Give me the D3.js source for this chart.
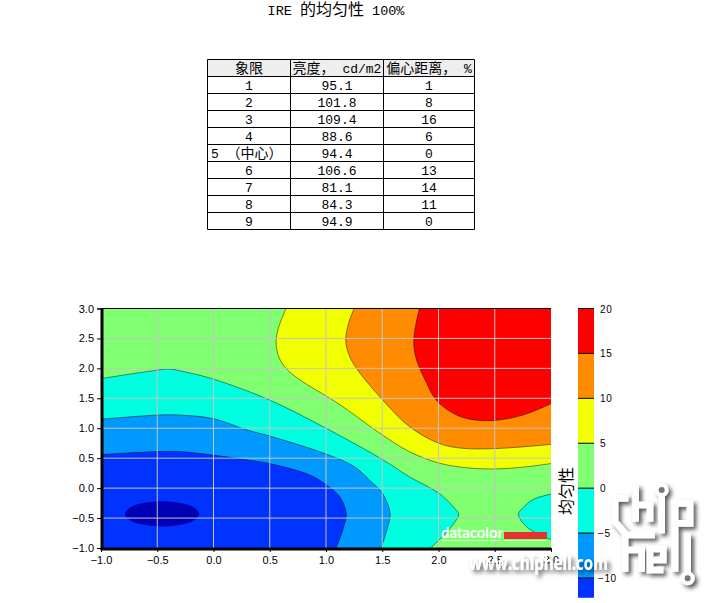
<!DOCTYPE html>
<html>
<head>
<meta charset="utf-8">
<script src="https://cdn.jsdelivr.net/npm/d3@7"></script>
<style>
  body { margin: 0; background: #fff; }
  text { font-family: "Liberation Sans", sans-serif; fill: #000; }
  .cell { font-family: "Liberation Mono", "Noto Sans CJK SC", monospace; }
  .cjk { font-family: "Noto Sans CJK SC", sans-serif; }
</style>
</head>
<body>
<div id="chart"></div>
<script>
// table values
var headers = ["象限", "亮度， cd/m2", "偏心距离， %"];
var quadrants = ["1", "2", "3", "4", "5 （中心）", "6", "7", "8", "9"];
var luminance = ["95.1", "101.8", "109.4", "88.6", "94.4", "106.6", "81.1", "84.3", "94.9"];
var deviation = ["1", "8", "16", "6", "0", "13", "14", "11", "0"];

// contour lines as [x, y]
var level15 = [[1.83,3],[1.8,2.75],[1.78,2.44],[1.8,2.17],[1.88,1.81],[1.98,1.47],[2.13,1.25],[2.28,1.15],[2.5,1.13],[2.75,1.22],[3,1.41]];
var level10 = [[1.25,3],[1.2,2.75],[1.175,2.47],[1.2,2.25],[1.26,2.03],[1.5,1.48],[1.74,1.03],[2,0.75],[2.19,0.67],[2.5,0.66],[3,0.73]];
var level5 = [[0.645,3],[0.58,2.69],[0.556,2.44],[0.585,2.17],[0.66,1.97],[0.79,1.78],[1,1.54],[1.15,1.36],[1.5,0.89],[1.74,0.61],[2,0.42],[2.25,0.34],[2.5,0.32],[2.75,0.35],[3,0.41]];
var level0 = [[-1,1.83],[-0.5,1.97],[-0.4,1.99],[-0.25,1.94],[0,1.82],[0.5,1.47],[1,1.0],[1.5,0.48],[1.74,0.19],[2,-0.08],[2.13,-0.31],[2.18,-0.44],[2.14,-0.58],[2.04,-0.8],[1.93,-1]];
var level0b = [[3,-0.1],[2.84,-0.19],[2.75,-0.33],[2.71,-0.44],[2.78,-0.64],[2.9,-0.78],[3,-0.86]];
var levelM5 = [[-1,1.15],[-0.5,1.22],[-0.3,1.22],[0,1.16],[0.3,0.97],[0.5,0.87],[1,0.57],[1.25,0.36],[1.4,0.11],[1.5,-0.08],[1.57,-0.42],[1.55,-0.64],[1.49,-1]];
var levelM10 = [[-1,0.56],[-0.5,0.61],[-0.3,0.61],[0,0.55],[0.3,0.47],[0.5,0.41],[0.855,0.22],[1,0.06],[1.12,-0.14],[1.18,-0.42],[1.15,-0.69],[1.09,-1]];
var levelM15 = [[-0.127,-0.43],[-0.171,-0.325],[-0.292,-0.248],[-0.457,-0.22],[-0.622,-0.248],[-0.743,-0.325],[-0.787,-0.43],[-0.743,-0.535],[-0.622,-0.612],[-0.457,-0.64],[-0.292,-0.612],[-0.171,-0.535]];

// colour bands
var barLevels = [20, 15, 10, 5, 0, -5, -10, -12.2];
var barColors = ["#ff0000", "#ff8c00", "#f2ff00", "#80ff70", "#00ffe0", "#0099ff", "#0033ff"];
var darkBlue = "#0000b4";
var barTicks = [20, 15, 10, 5, 0, -5, -10];
var axisTicks = [-1, -0.5, 0, 0.5, 1, 1.5, 2, 2.5, 3];

var svg = d3.select("#chart").append("svg")
  .attr("width", 711)
  .attr("height", 603)
  .style("display", "block");

// mixes half width latin and full width chinese sizes, like the original font
function mixedText(sel, str, latinSize, cjkSize) {
  var runs = str.match(/[\u3000-\u9fff\uff00-\uffef]+|[^\u3000-\u9fff\uff00-\uffef]+/g);
  runs.forEach(function(r) {
    var isCjk = /[\u3000-\u9fff\uff00-\uffef]/.test(r);
    sel.append("tspan")
      .attr("font-size", isCjk ? cjkSize : latinSize)
      .style("white-space", "pre")
      .text(r);
  });
}

// title
var title = svg.append("text").attr("class", "cell")
  .attr("x", 336).attr("y", 15)
  .attr("text-anchor", "middle");
mixedText(title, "IRE 的均匀性 100%", 13.5, 16);

// table
var colX = [207.5, 290.5, 383.5, 474.5];
var rowH = 17;
var tableTop = 59.5;

var rows = [headers].concat(quadrants.map(function(q, i) {
  return [q, luminance[i], deviation[i]];
}));

var table = svg.append("g");
table.append("rect")
  .attr("x", colX[0]).attr("y", tableTop)
  .attr("width", colX[3] - colX[0]).attr("height", rowH)
  .attr("fill", "#eeeeee");

rows.forEach(function(row, r) {
  row.forEach(function(v, c) {
    var isFive = r === 5 && c === 0;
    var t = table.append("text").attr("class", "cell")
      .attr("x", isFive ? colX[0] + 3.5 : (colX[c] + colX[c + 1]) / 2)
      .attr("y", tableTop + rowH * r + 13.5)
      .attr("text-anchor", isFive ? "start" : "middle");
    mixedText(t, v, 13, 14);
  });
});

d3.range(rows.length + 1).forEach(function(r) {
  table.append("line")
    .attr("x1", colX[0]).attr("x2", colX[3])
    .attr("y1", tableTop + rowH * r).attr("y2", tableTop + rowH * r)
    .attr("stroke", "#000");
});
colX.forEach(function(x) {
  table.append("line")
    .attr("x1", x).attr("x2", x)
    .attr("y1", tableTop).attr("y2", tableTop + rowH * rows.length)
    .attr("stroke", "#000");
});

// contour plot
var x = d3.scaleLinear().domain([-1, 3]).range([101, 551]);
var y = d3.scaleLinear().domain([-1, 3]).range([548, 308.5]);

svg.append("clipPath").attr("id", "plotClip").append("rect")
  .attr("x", x(-1)).attr("y", y(3))
  .attr("width", x(3) - x(-1)).attr("height", y(-1) - y(3));

var plot = svg.append("g").attr("clip-path", "url(#plotClip)");

var line = d3.line()
  .x(function(d) { return x(d[0]); })
  .y(function(d) { return y(d[1]); })
  .curve(d3.curveCatmullRom.alpha(0.5));

var closedLine = d3.line()
  .x(function(d) { return x(d[0]); })
  .y(function(d) { return y(d[1]); })
  .curve(d3.curveCatmullRomClosed.alpha(0.5));

// open contour plus the corners that close the region
function region(points, corners) {
  var p = line(points);
  corners.forEach(function(c) {
    p += "L" + x(c[0]) + "," + y(c[1]);
  });
  return p + "Z";
}

plot.append("rect")
  .attr("x", x(-1)).attr("y", y(3))
  .attr("width", x(3) - x(-1)).attr("height", y(-1) - y(3))
  .attr("fill", barColors[3]);

var regions = [
  { d: region(level5, [[3, 3]]), fill: barColors[2] },
  { d: region(level10, [[3, 3]]), fill: barColors[1] },
  { d: region(level15, [[3, 3]]), fill: barColors[0] },
  { d: region(level0, [[-1, -1]]), fill: barColors[4] },
  { d: region(level0b, [[3, -0.1]]), fill: barColors[4] },
  { d: region(levelM5, [[-1, -1]]), fill: barColors[5] },
  { d: region(levelM10, [[-1, -1]]), fill: barColors[6] },
  { d: closedLine(levelM15), fill: darkBlue }
];

plot.selectAll("path.band")
  .data(regions)
  .enter()
  .append("path")
  .attr("class", "band")
  .attr("d", function(d) { return d.d; })
  .attr("fill", function(d) { return d.fill; });

plot.selectAll("path.contour")
  .data([level15, level10, level5, level0, level0b, levelM5, levelM10])
  .enter()
  .append("path")
  .attr("class", "contour")
  .attr("d", line)
  .attr("fill", "none")
  .attr("stroke", "#000")
  .attr("stroke-opacity", 0.45);

// grid
axisTicks.slice(1, -1).forEach(function(t) {
  plot.append("line")
    .attr("x1", x(t)).attr("x2", x(t))
    .attr("y1", y(3)).attr("y2", y(-1))
    .attr("stroke", "#c4c4c4");
  plot.append("line")
    .attr("x1", x(-1)).attr("x2", x(3))
    .attr("y1", y(t)).attr("y2", y(t))
    .attr("stroke", "#c4c4c4");
});

// axes
var xAxis = d3.axisBottom(x).tickValues(axisTicks).tickFormat(d3.format(".1f")).tickSizeOuter(0).tickSize(4);
var yAxis = d3.axisLeft(y).tickValues(axisTicks).tickFormat(d3.format(".1f")).tickSizeOuter(0).tickSize(4);

var xG = svg.append("g").attr("transform", "translate(0," + y(-1) + ")").call(xAxis);
var yG = svg.append("g").attr("transform", "translate(" + x(-1) + ",0)").call(yAxis);
[xG, yG].forEach(function(g) {
  g.selectAll("text").attr("font-size", 11)
    .style("font-family", '"Liberation Sans", sans-serif')
    .text(function(d) { return d3.format(".1f")(d); });
  g.selectAll(".tick text").attr("fill", "#000");
});
xG.selectAll("text").attr("dy", "0.85em");

// thick left and bottom edges, thin top edge
svg.append("rect").attr("x", x(-1) - 0.5).attr("y", y(3)).attr("width", 3).attr("height", y(-1) - y(3) + 2);
svg.append("rect").attr("x", x(-1) - 0.5).attr("y", y(-1) - 0.5).attr("width", x(3) - x(-1) + 0.5).attr("height", 3);
svg.append("line")
  .attr("x1", x(-1)).attr("x2", x(3))
  .attr("y1", y(3)).attr("y2", y(3))
  .attr("stroke", "#000");

// colour bar
var barY = d3.scaleLinear().domain([20, -10]).range([308.5, 578]);

svg.selectAll("rect.bar")
  .data(barColors)
  .enter()
  .append("rect")
  .attr("class", "bar")
  .attr("x", 578)
  .attr("width", 16)
  .attr("y", function(d, i) { return barY(barLevels[i]); })
  .attr("height", function(d, i) { return barY(barLevels[i + 1]) - barY(barLevels[i]); })
  .attr("fill", function(d) { return d; });

barTicks.forEach(function(t) {
  svg.append("line")
    .attr("x1", 578).attr("x2", 594)
    .attr("y1", barY(t)).attr("y2", barY(t))
    .attr("stroke", "#000");
  svg.append("text")
    .attr("x", t < 0 ? 598 : 600)
    .attr("y", barY(t) + 4)
    .attr("font-size", 10)
    .attr("letter-spacing", 0.6)
    .text(t < 0 ? "\u2212" + (-t) : t);
});

svg.append("text").attr("class", "cjk")
  .attr("transform", "translate(572,491) rotate(-90)")
  .attr("text-anchor", "middle")
  .attr("font-size", 16)
  .text("均匀性");

// logo in the plot corner
svg.append("text")
  .attr("x", 441).attr("y", 538)
  .attr("font-size", 15)
  .attr("textLength", 62)
  .attr("lengthAdjust", "spacingAndGlyphs")
  .style("fill", "#fff")
  .style("font-family", "Lato, sans-serif")
  .style("font-weight", 700)
  .text("datacolor");
svg.append("rect")
  .attr("x", 504).attr("y", 532).attr("width", 43).attr("height", 7)
  .attr("fill", "#e83030");
svg.append("rect")
  .attr("x", 441).attr("y", 540).attr("width", 106).attr("height", 1)
  .attr("fill", "#fff").attr("opacity", 0.6);

// site watermark
var shadow = svg.append("filter").attr("id", "soft")
  .attr("x", "-20%").attr("y", "-20%").attr("width", "150%").attr("height", "150%");
shadow.append("feDropShadow")
  .attr("dx", 3).attr("dy", 3).attr("stdDeviation", 2)
  .attr("flood-color", "#000").attr("flood-opacity", 0.65);

svg.append("text")
  .attr("x", 469).attr("y", 570)
  .attr("font-size", 19)
  .attr("textLength", 139)
  .attr("lengthAdjust", "spacingAndGlyphs")
  .attr("filter", "url(#soft)")
  .style("fill", "#fff")
  .style("font-family", '"Open Sans", sans-serif')
  .style("font-weight", 700)
  .text("www.chiphell.com");

// chip hell badge, drawn in 3x units like the crop it was read from
var badgeStrokes = [
  "M85,85H45V155L80,195H165",
  "M107,45V155M107,105H150V155",
  "M185,60V190",
  "M225,195V100H270V160H225",
  "M75,195V305M75,240H125V305",
  "M190,300H150V237H190V270H150",
  "M225,195V305",
  "M263,190V325"
];
var badgeDots = [[185, 60], [263, 325]];

// filter sits on the outer group so the shadow is not scaled down with the badge
var badge = svg.append("g")
  .attr("filter", "url(#soft)")
  .append("g")
  .attr("transform", "translate(600,470) scale(0.3333)");
badge.selectAll("path")
  .data(badgeStrokes)
  .enter()
  .append("path")
  .attr("d", function(d) { return d; })
  .attr("fill", "none")
  .attr("stroke", "#fff")
  .attr("stroke-width", 20);
badge.selectAll("circle")
  .data(badgeDots)
  .enter()
  .append("circle")
  .attr("cx", function(d) { return d[0]; })
  .attr("cy", function(d) { return d[1]; })
  .attr("r", 15)
  .attr("fill", "#777")
  .attr("stroke", "#fff")
  .attr("stroke-width", 12);
</script>
</body>
</html>
